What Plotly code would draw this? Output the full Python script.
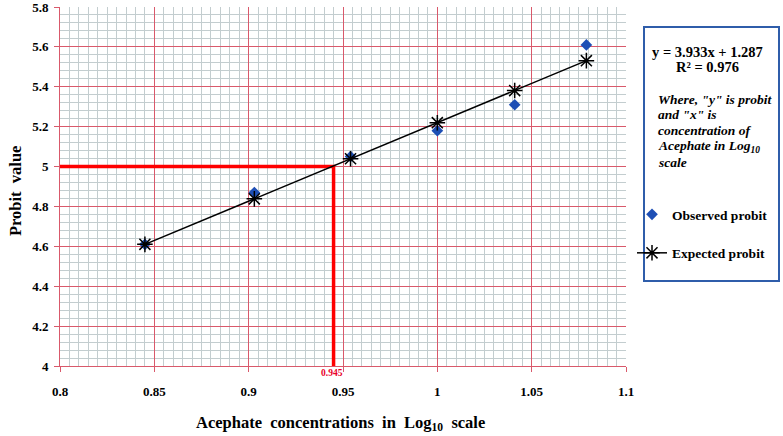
import plotly.graph_objects as go

# log10 concentration of acephate and probit values
log_conc = [0.845, 0.903, 0.954, 1.000, 1.041, 1.079]
observed_probit = [4.61, 4.87, 5.05, 5.18, 5.31, 5.61]
expected_probit = [4.610, 4.838, 5.039, 5.220, 5.381, 5.531]

# LC50 read-off (probit 5 -> log conc 0.945)
lc50_x = [0.8, 0.945, 0.945]
lc50_y = [5.0, 5.0, 4.0]

x_ticks = [0.8, 0.85, 0.9, 0.95, 1.0, 1.05, 1.1]
x_labels = ["0.8", "0.85", "0.9", "0.95", "1", "1.05", "1.1"]
y_ticks = [4.0, 4.2, 4.4, 4.6, 4.8, 5.0, 5.2, 5.4, 5.6, 5.8]
y_labels = ["4", "4.2", "4.4", "4.6", "4.8", "5", "5.2", "5.4", "5.6", "5.8"]

eq_lines = ["y = 3.933x + 1.287", "R² = 0.976"]
note_lines = ['Where, "y" is probit', 'and "x" is', "concentration of",
              "Acephate in Log<sub>10</sub>", "scale"]

FONT = "Times New Roman, Liberation Serif, serif"
MAJOR = "#D9596B"
MINOR = "#C3CDCF"

# page is 783 wide, plot area 60..626 px, margin l=60 r=0 -> paper spans 723 px
W, H = 783, 436
L, T, B = 60, 7, 70
PW, PH = W - L, H - T - B


def px(x):
  return (x - L) / PW


def py(y):
  return (H - B - y) / PH


# graph-paper minor lines, skipping the spots where the red major lines sit
x_minor = [round(0.8 + i * 0.005, 4) for i in range(61) if i % 10]
y_minor = [round(4.0 + i * 0.04, 4) for i in range(46) if i % 5]

fig = go.Figure()

fig.add_trace(go.Scatter(
  x=lc50_x, y=lc50_y, mode="lines",
  line=dict(color="#FF0000", width=3.5),
  showlegend=False, hoverinfo="skip"
))

fig.add_trace(go.Scatter(
  x=log_conc, y=observed_probit, mode="markers", name="Observed probit",
  marker=dict(symbol="diamond", size=9, color="#1E4FB5"),
  legendgroup="obs"
))

fig.add_trace(go.Scatter(
  x=log_conc, y=expected_probit, mode="lines+markers", name="Expected probit",
  line=dict(color="black", width=1.5),
  marker=dict(symbol="asterisk-open", size=13, color="black",
              line=dict(color="black", width=1.5)),
  legendgroup="exp"
))

fig.update_layout(
  width=W, height=H,
  margin=dict(l=L, r=0, t=T, b=B),
  paper_bgcolor="white", plot_bgcolor="white",
  font=dict(family=FONT, color="black", size=12),
  showlegend=True,
  legend=dict(
    x=px(632), y=py(199), xanchor="left", yanchor="top",
    bgcolor="rgba(0,0,0,0)", tracegroupgap=18,
    font=dict(family=FONT, size=13.5, weight="bold")
  ),
  xaxis=dict(
    domain=[0, px(626)], automargin=False,
    range=[0.8, 1.1], tickvals=x_ticks, ticktext=x_labels,
    showgrid=True, gridcolor=MAJOR, gridwidth=1,
    minor=dict(tickvals=x_minor, showgrid=True, gridcolor=MINOR, gridwidth=1),
    showline=True, linecolor=MAJOR, linewidth=1,
    ticks="outside", tickcolor=MAJOR, ticklen=5, ticklabelstandoff=8,
    ticklabeloverflow="allow",
    tickfont=dict(family=FONT, size=13, weight="bold"),
    zeroline=False,
  ),
  yaxis=dict(
    automargin=False,
    range=[4, 5.8], tickvals=y_ticks, ticktext=y_labels,
    showgrid=True, gridcolor=MAJOR, gridwidth=1,
    minor=dict(tickvals=y_minor, showgrid=True, gridcolor=MINOR, gridwidth=1),
    showline=True, linecolor=MAJOR, linewidth=1,
    ticks="outside", tickcolor=MAJOR, ticklen=5, ticklabelstandoff=3,
    ticklabeloverflow="allow",
    tickfont=dict(family=FONT, size=13, weight="bold"),
    zeroline=False,
  ),
)

# axis titles
fig.add_annotation(
  xref="paper", yref="paper", x=px(340), y=py(423),
  xanchor="center", yanchor="middle",
  text="<b>Acephate  concentrations  in  Log<sub>10</sub>  scale</b>",
  showarrow=False, font=dict(family=FONT, size=16.5)
)
fig.add_annotation(
  xref="paper", yref="paper", x=px(15), y=py(191), textangle=-90,
  xanchor="center", yanchor="middle",
  text="<b>Probit  value</b>",
  showarrow=False, font=dict(family=FONT, size=16.5)
)

# info box
fig.add_shape(type="rect", xref="paper", yref="paper",
              x0=px(644), x1=px(779), y0=py(281), y1=py(27),
              line=dict(color="#2F5DAA", width=2), fillcolor="rgba(0,0,0,0)")

for i, line in enumerate(eq_lines):
  fig.add_annotation(
    xref="paper", yref="paper", x=px(707), y=py(52 + 15 * i),
    xanchor="center", yanchor="middle",
    text=f"<b>{line}</b>", showarrow=False,
    font=dict(family=FONT, size=14.5)
  )

for i, line in enumerate(note_lines):
  fig.add_annotation(
    xref="paper", yref="paper", x=px(656), y=py(99 + 15.8 * i),
    xanchor="left", yanchor="middle",
    text=f"<b><i>{line}</i></b>", showarrow=False,
    font=dict(family=FONT, size=13.5)
  )

# LC50 label under the axis
fig.add_annotation(
  x=0.945, xref="x", y=py(373), yref="paper", xshift=-2,
  xanchor="center", yanchor="middle",
  text="<b>0.945</b>", showarrow=False,
  font=dict(family=FONT, size=9.5, color="#E8002A")
)

# drop the default body margin so the figure sits at the page origin
fig.write_html("out.html", config={"displayModeBar": False},
               post_script="document.body.style.margin='0';")
